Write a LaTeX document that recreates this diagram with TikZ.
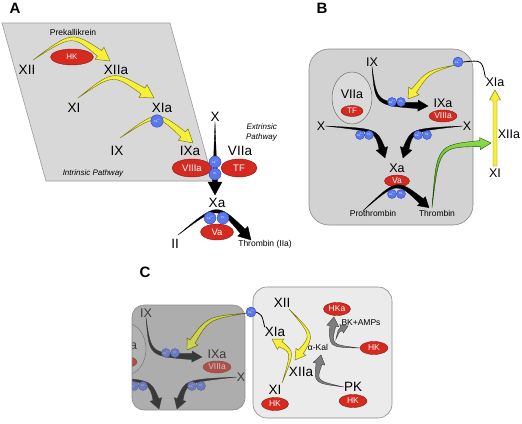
\documentclass[tikz,border=0pt]{standalone}
\usepackage{fontspec}
\setmainfont{Liberation Sans}
\usetikzlibrary{calc,shapes.geometric}
\definecolor{ared}{HTML}{D42A1F}
\definecolor{aredd}{HTML}{8E1A12}
\definecolor{ablue}{HTML}{5A78EE}
\definecolor{abluee}{HTML}{2E3FA8}
\definecolor{ayel}{HTML}{F6F03A}
\definecolor{ayeld}{HTML}{7A7410}
\definecolor{ayelc}{HTML}{CBD350}
\definecolor{pA}{HTML}{D8D8D8}
\definecolor{pAb}{HTML}{9A9A9A}
\definecolor{pB}{HTML}{D2D2D2}
\definecolor{pBb}{HTML}{8A8A8A}
\definecolor{pC}{HTML}{EBEBEB}
\definecolor{grpf}{HTML}{DADADA}
\definecolor{cgray}{HTML}{7E7E7E}
\definecolor{covl}{HTML}{808080}
\definecolor{gL}{HTML}{8EE04A}
\definecolor{gD}{HTML}{2E6E10}
\newcommand{\tarrow}[7][]{%
  \coordinate (ta-b) at ($(#4)!#7!(#3)$);
  \coordinate (ta-h1) at ($(ta-b)!#5!90:(#4)$);
  \coordinate (ta-h2) at ($(ta-b)!#5!-90:(#4)$);
  \coordinate (ta-w1) at ($(ta-b)!#6!90:(#4)$);
  \coordinate (ta-w2) at ($(ta-b)!#6!-90:(#4)$);
  \coordinate (ta-o1) at ($(#2)!#5!90:(ta-b)$);
  \coordinate (ta-o2) at ($(#2)!#5!-90:(ta-b)$);
  \coordinate (ta-c1) at ($(#3)+0.55*(ta-o1)-0.55*(#2)$);
  \coordinate (ta-c2) at ($(#3)+0.55*(ta-o2)-0.55*(#2)$);
  \draw[#1] (#2) .. controls (ta-c1) .. (ta-h1) -- (ta-w1) -- (#4) -- (ta-w2) -- (ta-h2) .. controls (ta-c2) .. (#2) -- cycle;
}
\tikzset{
  every node/.style={inner sep=0pt},
  lbla/.style={font=\fontsize{13.5}{13.5}\selectfont},
  lbl/.style={font=\fontsize{12.5}{12.5}\selectfont},
  lblc/.style={font=\fontsize{13.5}{13.5}\selectfont},
  sml/.style={font=\fontsize{8.5}{8.5}\selectfont},
  itl/.style={font=\itshape\fontsize{8}{10}\selectfont},
  plet/.style={font=\bfseries\fontsize{15}{15}\selectfont},
  redov/.style={ellipse, fill=ared, draw=aredd, line width=0.4pt, text=white},
  bc/.style={circle, fill=ablue, draw=abluee, line width=0.35pt, text=white, font=\fontsize{2.8}{3}\selectfont},
  yel/.style={fill=ayel, draw=ayeld, line width=0.45pt},
  yelc/.style={fill=ayelc, draw=ayeld!80!black, line width=0.45pt},
  blk/.style={fill=black, draw=black, line width=0.3pt},
  gry/.style={fill=cgray, draw=black!75, line width=0.4pt},
  grn/.style={top color=gL, bottom color=gD, draw=gD!70!black, line width=0.4pt},
}
% upper part of panel B's inner content (used in B and, faded, in C)
\newcommand{\panelBtop}[1]{%
  \node[ellipse, fill=grpf, draw=black!60, line width=0.45pt, minimum width=40, minimum height=52] (#1grp) at (352,98) {};
  \node[lbl] (#1VIIa) at (352,94) {VIIa};
  \node[redov, minimum width=22, minimum height=11, font=\fontsize{8}{8}\selectfont] (#1TF) at (352,111) {TF};
  \node[lbl] (#1IX) at (372,62) {IX};
  \node[lbl] (#1IXa) at (443,103) {IXa};
  \node[redov, minimum width=28, minimum height=12, font=\fontsize{8.5}{8.5}\selectfont] (#1VIIIa) at (443,116) {VIIIa};
  \node[lbl] (#1Xl) at (321,126) {X};
  \node[lbl] (#1Xr) at (467,126) {X};
  \coordinate (#1t1) at (428,106);
  \coordinate (#1t2) at (385,158);
  \coordinate (#1t3) at (403,158);
  \tarrow[blk]{#1IX.south}{376,104}{#1t1}{3pt}{5.5pt}{10pt}
  \tarrow[blk]{#1Xl.east}{376,130}{#1t2}{3pt}{6pt}{10pt}
  \tarrow[blk]{#1Xr.west}{412,130}{#1t3}{3pt}{6pt}{10pt}
  \node[bc, minimum size=9] (#1c1) at (392,102) {Ca\textsuperscript{2+}};
  \node[bc, minimum size=9] (#1p1) at (401,102) {PL};
  \node[bc, minimum size=9] (#1c2) at (360,135) {Ca\textsuperscript{2+}};
  \node[bc, minimum size=9] (#1p2) at (369,135) {PL};
  \node[bc, minimum size=9] (#1c3) at (418,135) {Ca\textsuperscript{2+}};
  \node[bc, minimum size=9] (#1p3) at (427,135) {PL};
}
\begin{document}
\begin{tikzpicture}[x=1pt,y=-1pt]
\useasboundingbox (0,0) rectangle (522,423);
\fill[white] (0,0) rectangle (522,423);

% ---------------- Panel A ----------------
\node[plet] (labA) at (15,8) {A};
\draw[fill=pA, draw=pAb, line width=0.6pt] (2,23) -- (170,23) -- (213,181) -- (46,181) -- cycle;
\node[sml] (prek) at (73,32) {Prekallikrein};
\node[redov, minimum width=43, minimum height=16, font=\fontsize{8}{8}\selectfont] (hkA) at (72,57) {HK};
\node[lbla] (aXII) at (27,70) {XII};
\node[lbla] (aXIIa) at (116,70) {XIIa};
\node[lbla] (aXI) at (74,108) {XI};
\node[lbla] (aXIa) at (162,108) {XIa};
\node[lbla] (aIX) at (117,151) {IX};
\node[lbla] (aIXa) at (190,151) {IXa};
\node[itl] (intr) at (93,173) {Intrinsic Pathway};
\coordinate (a1s) at (33,60);
\coordinate (a1t) at (110,61);
\coordinate (a2s) at (78,98);
\coordinate (a2t) at (154,98);
\coordinate (a3s) at (120,138);
\coordinate (a3t) at (193,143);
\tarrow[yel]{a1s}{72,33}{a1t}{3.5pt}{7.5pt}{13pt}
\tarrow[yel]{a2s}{113,72}{a2t}{3.5pt}{7.5pt}{13pt}
\tarrow[yel]{a3s}{157,112}{a3t}{3.5pt}{7.5pt}{13pt}
\node[bc, minimum size=12.5] (aCa1) at (157,121) {Ca\textsuperscript{2+}};

\node[lbla] (aX) at (215,117) {X};
\node[itl, align=right, anchor=east] (extr) at (277,132) {Extrinsic\\Pathway};
\node[lbla] (aVIIa) at (240,151) {VIIa};
\node[redov, minimum width=40, minimum height=18, font=\fontsize{9.5}{9.5}\selectfont] (aVIIIa) at (192,168) {VIIIa};
\node[redov, minimum width=36, minimum height=18, font=\fontsize{9.5}{9.5}\selectfont] (aTF) at (239,168) {TF};
\node[lbla] (aXa) at (217,203) {Xa};
\coordinate (aXt) at (215,195);
\tarrow[blk]{aX.south}{215,160}{aXt}{2.6pt}{7pt}{13pt}
\node[bc, minimum size=12] (aCa2) at (215,162) {Ca\textsuperscript{2+}};
\node[bc, minimum size=12] (aPL2) at (215,174) {PL};

\node[lbla] (aII) at (175,244) {II};
\node[sml] (thrA) at (265,244) {Thrombin (IIa)};
\coordinate (aIIs) at (178,235);
\coordinate (aThrt) at (251,240);
\tarrow[blk]{aIIs}{217,204}{aThrt}{3.2pt}{7pt}{12pt}
\node[redov, minimum width=33, minimum height=16, font=\fontsize{9.5}{9.5}\selectfont] (aVa) at (217,232) {Va};
\node[bc, minimum size=12] (aCa3) at (210,218) {Ca\textsuperscript{2+}};
\node[bc, minimum size=12] (aPL3) at (223,218) {PL};

% ---------------- Panel B ----------------
\node[plet] (labB) at (322,8) {B};
\draw[fill=pB, draw=pBb, line width=0.6pt, rounded corners=20] (309,49) rectangle (473,225);
\panelBtop{b}
\node[lbl] (bXa) at (397,168) {Xa};
\node[redov, minimum width=25, minimum height=12, font=\fontsize{8.5}{8.5}\selectfont] (bVa) at (397,181) {Va};
\node[sml] (bpro) at (373,213) {Prothrombin};
\node[sml] (bthr) at (437,213) {Thrombin};
\coordinate (bs4) at ($(bpro.north)+(-10,1)$);
\coordinate (bt4) at ($(bthr.north)+(-8,-2)$);
\tarrow[blk]{bs4}{397,180}{bt4}{3pt}{6pt}{10pt}
\node[bc, minimum size=9] (bc4) at (392,194) {Ca\textsuperscript{2+}};
\node[bc, minimum size=9] (bp4) at (401,194) {PL};

\node[lbl] (bXIa) at (495,82) {XIa};
\node[lbl] (bXIIa) at (509,134) {XIIa};
\node[lbl] (bXI) at (495,173) {XI};
\draw[yel] (493,166) -- (493,100) -- (489.5,100) -- (495,90) -- (500.5,100) -- (497,100) -- (497,166) -- cycle;
\coordinate (bgs) at ($(bthr.north)+(-5,-2)$);
\coordinate (bgt) at (491,143);
\tarrow[grn]{bgs}{438,146}{bgt}{3pt}{6pt}{11pt}
\coordinate (byt) at (408,99);
\coordinate (bys) at (455,65);
\tarrow[yel]{bys}{428,72}{byt}{3pt}{6.5pt}{10pt}
\node[bc, minimum size=10] (bCa) at (458,62) {Ca\textsuperscript{2+}};
\draw[line width=0.8pt] (bCa.east) .. controls (482,60) .. (bXIa.north west);

% ---------------- Panel C ----------------
\node[plet] (labC) at (145,272) {C};
\begin{scope}
  \clip[rounded corners=12] (132,305) rectangle (245,410);
  \fill[pB] (132,305) rectangle (245,410);
  \begin{scope}[shift={(-226,251)}]
    \panelBtop{c}
  \end{scope}
  \fill[covl, opacity=0.45] (132,305) rectangle (245,410);
\end{scope}
\draw[draw=pBb, line width=0.6pt, rounded corners=12] (132,305) rectangle (245,410);

\draw[fill=pC, draw=pBb, line width=0.6pt, rounded corners=14] (253,287) rectangle (392,418);
\node[lblc] (cXII) at (282,303) {XII};
\node[lblc] (cXIa) at (275,332) {XIa};
\node[lblc] (cXIIa) at (301,372) {XIIa};
\node[lblc] (cXI) at (275,390) {XI};
\node[redov, minimum width=27, minimum height=13, font=\fontsize{8.5}{8.5}\selectfont] (cHK1) at (275,404) {HK};
\node[sml] (akal) at (318,347) {α-Kal};
\node[redov, minimum width=27, minimum height=13, font=\fontsize{8.5}{8.5}\selectfont] (cHKa) at (337,309) {HKa};
\node[sml] (bk) at (361,323) {BK+AMPs};
\node[redov, minimum width=28, minimum height=13, font=\fontsize{8.5}{8.5}\selectfont] (cHK2) at (374,348) {HK};
\node[lblc] (cPK) at (353,387) {PK};
\node[redov, minimum width=28, minimum height=13, font=\fontsize{8.5}{8.5}\selectfont] (cHK3) at (353,401) {HK};

\coordinate (cy1s) at (289,309);
\coordinate (cy1t) at (295,360);
\tarrow[yel]{cy1s}{313,335}{cy1t}{3pt}{6pt}{10pt}
\coordinate (cy2s) at (282,383);
\coordinate (cy2t) at (272,339);
\tarrow[yel]{cy2s}{293,352}{cy2t}{3pt}{6pt}{10pt}
\coordinate (cg1t) at (334,317);
\tarrow[gry]{cHK2.west}{330,346}{cg1t}{3pt}{6pt}{9pt}
\coordinate (cg2s) at (336,339);
\coordinate (cg2t) at (348,326);
\tarrow[gry]{cg2s}{339,330}{cg2t}{2pt}{4.5pt}{7pt}
\coordinate (cg3t) at (321,355);
\tarrow[gry]{cPK.west}{315,382}{cg3t}{3pt}{6pt}{9pt}

\coordinate (cyt) at (187,350);
\coordinate (cys) at (248,313);
\tarrow[yelc]{cys}{208,318}{cyt}{3pt}{6.5pt}{10pt}
\node[bc, minimum size=10] (cCa) at (251,312) {Ca\textsuperscript{2+}};
\draw[line width=0.8pt] (cCa.east) .. controls (262,315) .. (cXIa.north west);
\end{tikzpicture}
\end{document}
